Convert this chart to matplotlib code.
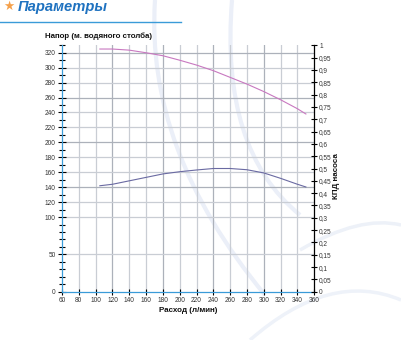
import numpy as np
import matplotlib
matplotlib.use('Agg')
import matplotlib.pyplot as plt
from matplotlib.path import Path
from matplotlib.patches import PathPatch
from matplotlib.ticker import FixedLocator, MultipleLocator, FuncFormatter

plt.rcParams['font.family'] = ['Liberation Sans', 'DejaVu Sans']

# data
flow = [105, 120, 140, 160, 180, 200, 220, 240, 260, 280, 300, 320, 340, 350]
head = [325, 325, 323.5, 320, 316, 310, 303.5, 296, 287, 278, 268, 257, 245, 238]
eff = [0.43, 0.436, 0.45, 0.464, 0.478, 0.487, 0.494, 0.50, 0.50, 0.495, 0.482, 0.46, 0.436, 0.425]

x_ticks = list(range(60, 361, 20))
head_labels = [0, 50] + list(range(100, 321, 20))
eff_ticks = [round(v, 2) for v in np.arange(0, 1.001, 0.05)]

title = 'Параметры'
head_title = 'Напор (м. водяного столба)'
flow_title = 'Расход (л/мин)'
eff_title = 'КПД насоса'

W, H = 401, 340
blue = '#3a9bd8'
grid_c = '#c9cdd4'
grid_dark = '#acb1ba'

fig = plt.figure(figsize=(W / 100, H / 100), dpi=100)
fig.patch.set_facecolor('white')


def swoosh(pts, lw, color):
    # decorative background curve, points in pixels from top-left
    verts = [(x / W, 1 - y / H) for x, y in pts]
    codes = [Path.MOVETO] + [Path.CURVE3] * (len(verts) - 1)
    fig.add_artist(PathPatch(Path(verts, codes), fill=False, lw=lw, ec=color,
                             transform=fig.transFigure, zorder=-5))


swoosh([(155, 0), (145, 150), (265, 295)], 3, '#ebeff8')
swoosh([(232, 0), (220, 150), (300, 215)], 3, '#ebeff8')
swoosh([(300, 250), (360, 215), (401, 225)], 2.5, '#edf1f8')
swoosh([(250, 340), (330, 270), (401, 300)], 2.5, '#eef2f9')

# header
fig.text(0.008, 0.979, '★', color='#f5a04a', fontsize=9, va='center', ha='left')
fig.text(0.043, 0.979, title, color='#1f72c0', fontsize=10.6, fontweight='bold',
         fontstyle='italic', va='center', ha='left')
fig.add_artist(plt.Line2D([0, 0.452], [0.935, 0.935], color=blue, lw=1.0))

ax = fig.add_axes([0.1546, 0.142, 0.6292, 0.7248])
ax.patch.set_visible(False)
ax.set_xlim(60, 360)
ax.set_ylim(0, 330)

# grid
for v in range(80, 360, 20):
    ax.axvline(v, color=grid_dark if v % 60 == 0 else grid_c, lw=0.9, zorder=0)
for v in head_labels[1:]:
    ax.axhline(v, color=grid_dark if v in (140, 200, 260, 320) else grid_c, lw=0.9, zorder=0)

ax.plot(flow, head, color='#c878c0', lw=0.8, zorder=3)

ax.spines['top'].set_visible(False)
ax.spines['right'].set_visible(False)
ax.spines['left'].set_color(blue)
ax.spines['bottom'].set_color(blue)
for s in ['left', 'bottom']:
    ax.spines[s].set_linewidth(0.9)

ax.xaxis.set_major_locator(FixedLocator(x_ticks))
ax.yaxis.set_major_locator(FixedLocator(head_labels))
ax.yaxis.set_minor_locator(MultipleLocator(10))
ax.tick_params(axis='both', which='both', direction='inout', color='black', width=0.8,
               labelsize=4.7, labelcolor='#333333')
ax.tick_params(axis='x', length=4, pad=1.5)
ax.tick_params(axis='y', which='major', length=6, pad=1.5)
ax.tick_params(axis='y', which='minor', length=5)

ax2 = ax.twinx()
ax2.patch.set_visible(False)
ax2.set_ylim(0, 1)
ax2.plot(flow, eff, color='#6a6aa2', lw=0.8, zorder=3)
for s in ['top', 'left', 'bottom']:
    ax2.spines[s].set_visible(False)
ax2.spines['right'].set_color('black')
ax2.spines['right'].set_linewidth(0.9)
ax2.yaxis.set_major_locator(FixedLocator(eff_ticks))
ax2.yaxis.set_major_formatter(FuncFormatter(lambda v, p: ('%g' % round(v, 2)).replace('.', ',')))
ax2.tick_params(axis='y', direction='inout', length=4, width=0.8, color='black',
                labelsize=4.7, labelcolor='#333333', pad=1.5)

fig.text(0.245, 0.894, head_title, fontsize=5.7, fontweight='bold', ha='center', va='center', color='#111111')
fig.text(0.469, 0.086, flow_title, fontsize=5.8, fontweight='bold', ha='center', va='center', color='#111111')
fig.text(0.838, 0.482, eff_title, fontsize=5.8, fontweight='bold', ha='center', va='center',
         rotation=90, color='#111111')

fig.savefig('out.png', dpi=100)
